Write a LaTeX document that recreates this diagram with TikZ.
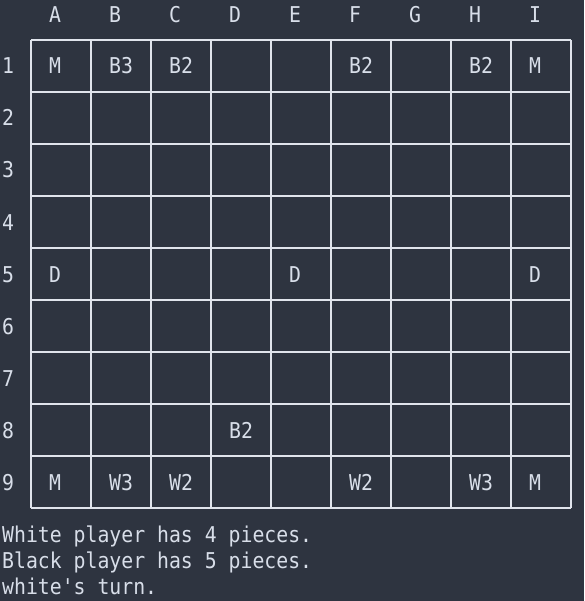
\documentclass[tikz,border=0pt]{standalone}
\usepackage{fontspec}
\setmonofont{DejaVu Sans Mono}
\definecolor{bgc}{HTML}{2E3440}
\definecolor{fgc}{HTML}{D8DEE9}
\definecolor{gridc}{HTML}{E0E4EC}
\newcommand{\mytxt}[1]{\scalebox{1}[1.1]{#1}}
\begin{document}
\begin{tikzpicture}[x=1pt,y=-1pt,
  txt/.style={anchor=base, inner sep=0pt, text=fgc, font=\fontsize{19.8}{19.8}\selectfont\ttfamily},
  lefttxt/.style={txt, anchor=base west},
  gridline/.style={draw=gridc, line width=1.8pt}]
\fill[bgc] (0,0) rectangle (584,601);
\useasboundingbox (0,0) rectangle (584,601);
% grid
\foreach \i in {0,...,9} {
  \draw[gridline] (31+60*\i,40) -- (31+60*\i,508);
  \draw[gridline] (31,40+52*\i) -- (571,40+52*\i);
}
% column headers
\foreach \c/\l in {1/A,2/B,3/C,4/D,5/E,6/F,7/G,8/H,9/I}
  \node[txt] (col\l) at (1+60*\c-6, 22.7) {\mytxt{\l}};
% row labels
\foreach \r in {1,...,9}
  \node[txt] (row\r) at (8, 22+52*\r) {\mytxt{\r}};
% single-character pieces
\foreach \c/\r/\t in {1/1/M,9/1/M,1/5/D,5/5/D,9/5/D,1/9/M,9/9/M}
  \node[txt] (p\c-\r) at (1+60*\c-6, 22+52*\r) {\mytxt{\t}};
% two-character pieces
\foreach \c/\r/\t in {2/1/B3,3/1/B2,6/1/B2,8/1/B2,4/8/B2,2/9/W3,3/9/W2,6/9/W2,8/9/W3}
  \node[txt] (p\c-\r) at (1+60*\c, 22+52*\r) {\mytxt{\t}};
% status lines
\node[lefttxt] (s1) at (2,542) {\mytxt{White player has 4 pieces.}};
\node[lefttxt] (s2) at (2,568) {\mytxt{Black player has 5 pieces.}};
\node[lefttxt] (s3) at (2,594) {\mytxt{white\textquotesingle s turn.}};
\end{tikzpicture}
\end{document}
